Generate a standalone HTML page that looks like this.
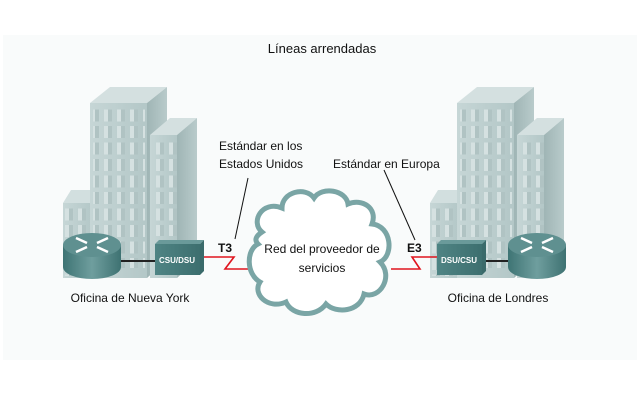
<!DOCTYPE html>
<html><head><meta charset="utf-8"><style>
html,body{margin:0;padding:0;background:#fff;}
svg{display:block;font-family:"Liberation Sans",sans-serif;}
</style></head><body>
<svg width="640" height="400" viewBox="0 0 640 400">
<defs>
<linearGradient id="front" x1="0" x2="1"><stop offset="0" stop-color="#c6d6d6"/><stop offset="1" stop-color="#b3c7c7"/></linearGradient>
<linearGradient id="side" x1="0" x2="1"><stop offset="0" stop-color="#9fb5b5"/><stop offset="1" stop-color="#b9cbcb"/></linearGradient>
<linearGradient id="cyl" x1="0" x2="1"><stop offset="0" stop-color="#3e7474"/><stop offset="0.5" stop-color="#6f9e9e"/><stop offset="1" stop-color="#3e7272"/></linearGradient>
<linearGradient id="box" x1="0" x2="1"><stop offset="0" stop-color="#4f8484"/><stop offset="1" stop-color="#3d6f6f"/></linearGradient>
<pattern id="win" x="0" y="0" width="13" height="16.5" patternUnits="userSpaceOnUse"><rect x="2" y="3" width="8" height="12" fill="#d5e1e1"/><rect x="6" y="3" width="4" height="12" fill="#b0c3c3"/></pattern>
<g id="bld">
  <polygon points="0,113 8,100 30,100 30,113" fill="#d2dfdf"/>
  <rect x="0" y="113" width="30" height="75" fill="url(#front)"/>
  <rect x="2" y="116" width="26" height="70" fill="url(#win)"/>
  <polygon points="27,13 47,-3 104,-3 84,13" fill="#d4e0e0"/>
  <polygon points="84,13 104,-3 104,170 84,188" fill="url(#side)"/>
  <rect x="27" y="13" width="57" height="175" fill="url(#front)"/>
  <rect x="30" y="18" width="52" height="160" fill="url(#win)"/>
  <polygon points="87,45 107,28 134,28 114,45" fill="#d4e0e0"/>
  <polygon points="114,45 134,28 134,170 114,188" fill="url(#side)"/>
  <rect x="87" y="45" width="27" height="143" fill="url(#front)"/>
  <rect x="89" y="50" width="26" height="96" fill="url(#win)"/>
</g>
<g id="router">
  <path d="M0,12 L0,34 A29,12 0 0 0 58,34 L58,12 Z" fill="url(#cyl)"/>
  <ellipse cx="29" cy="12" rx="29" ry="12" fill="#5f9090"/>
  <path d="M13,5 l11,5 M45,5 l-11,5 M13,19 l11,-5 M45,19 l-11,-5" stroke="#fff" stroke-width="2.5"/>
</g>
</defs>
<rect x="3" y="35" width="634" height="325" fill="#f9fbfb"/>
<text x="322" y="53" font-size="13" text-anchor="middle" fill="#111">Líneas arrendadas</text>

<use href="#bld" x="63" y="90"/>
<use href="#bld" x="430" y="90"/>

<line x1="120" y1="261" x2="156" y2="261" stroke="#222" stroke-width="2"/>
<use href="#router" x="63" y="233"/>
<polygon points="155,244 159,240 204,240 200,244" fill="#6a9a9a"/>
<polygon points="200,244 204,240 204,271 200,275" fill="#3a6a6a"/>
<rect x="155" y="244" width="45" height="31" fill="url(#box)"/>
<text x="177" y="263" font-size="8" font-weight="bold" fill="#fff" text-anchor="middle">CSU/DSU</text>

<line x1="484" y1="261" x2="510" y2="261" stroke="#222" stroke-width="2"/>
<polygon points="437,244 441,240 486,240 482,244" fill="#6a9a9a"/>
<polygon points="482,244 486,240 486,271 482,275" fill="#3a6a6a"/>
<rect x="437" y="244" width="45" height="31" fill="url(#box)"/>
<text x="459" y="263" font-size="8" font-weight="bold" fill="#fff" text-anchor="middle">DSU/CSU</text>
<use href="#router" x="508" y="233"/>

<polyline points="204,257 234,257 225,269 254,269" fill="none" stroke="#e0141e" stroke-width="1.6"/>
<polyline points="391,269 420,269 412,257 437,257" fill="none" stroke="#e0141e" stroke-width="1.6"/>

<path d="M262,232 C250,222 262,200 282,208 C282,192 305,186 314,198 C322,186 346,190 348,204 C362,198 378,208 372,224 C392,226 394,256 380,262 C394,276 380,300 364,294 C360,312 336,314 326,304 C316,318 292,316 286,302 C268,310 252,294 260,282 C246,274 246,250 258,244 C254,240 256,236 262,232 Z" fill="#fff" stroke="#7aa5a5" stroke-width="5"/>
<text x="322" y="253" font-size="12" text-anchor="middle" fill="#111">Red del proveedor de</text>
<text x="322" y="272" font-size="12" text-anchor="middle" fill="#111">servicios</text>

<line x1="248" y1="178" x2="235" y2="239" stroke="#111" stroke-width="1"/>
<line x1="384" y1="170" x2="415" y2="240" stroke="#111" stroke-width="1"/>
<text x="219" y="150" font-size="12" fill="#111">Estándar en los</text>
<text x="219" y="168" font-size="12" fill="#111">Estados Unidos</text>
<text x="333" y="168" font-size="12" fill="#111">Estándar en Europa</text>
<text x="218" y="252" font-size="12" font-weight="bold" fill="#111">T3</text>
<text x="407" y="252" font-size="12" font-weight="bold" fill="#111">E3</text>

<text x="130" y="302" font-size="12" text-anchor="middle" fill="#111">Oficina de Nueva York</text>
<text x="498" y="302" font-size="12" text-anchor="middle" fill="#111">Oficina de Londres</text>
</svg>
</body></html>
